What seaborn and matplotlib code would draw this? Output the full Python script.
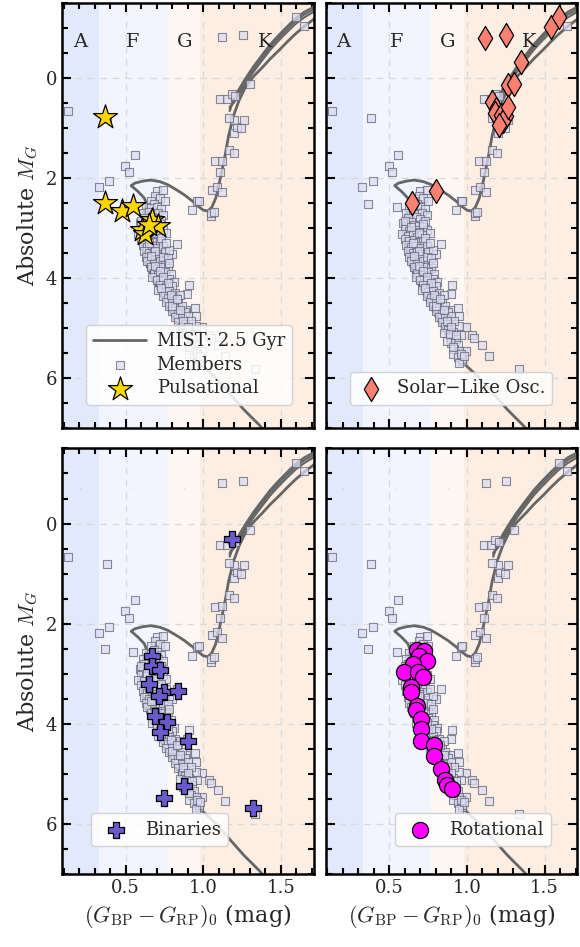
import matplotlib
matplotlib.use("Agg")
import seaborn as sns
from matplotlib import pyplot as plt
from matplotlib.ticker import MultipleLocator

# MIST 2.5 Gyr isochrone (MS -> hook -> SGB -> RGB)
iso_x = [1.45, 1.36, 1.26, 1.16, 1.08, 0.99, 0.91, 0.82, 0.735, 0.67, 0.63, 0.605, 0.595, 0.60, 0.615,
         0.635, 0.62, 0.58, 0.535, 0.56, 0.61, 0.66, 0.72, 0.77, 0.83, 0.88, 0.93, 0.97, 1.00, 1.03,
         1.055, 1.08, 1.11, 1.14, 1.163, 1.195, 1.23, 1.27, 1.32, 1.38, 1.43, 1.49, 1.54, 1.59, 1.65,
         1.71, 1.76]
iso_y = [7.25, 6.93, 6.62, 6.27, 5.99, 5.73, 5.33, 4.86, 4.39, 3.99, 3.70, 3.35, 3.03, 2.85, 2.70,
         2.52, 2.40, 2.27, 2.15, 2.10, 2.06, 2.04, 2.07, 2.13, 2.24, 2.34, 2.46, 2.57, 2.64, 2.66,
         2.58, 2.40, 2.00, 1.55, 1.15, 0.75, 0.45, 0.19, -0.02, -0.21, -0.38, -0.56, -0.72, -0.87, -1.03,
         -1.17, -1.30]
# helium burning / AGB tracks leaving the clump
agb_x = [1.17, 1.195, 1.23, 1.271, 1.32, 1.378, 1.43, 1.486, 1.54, 1.594, 1.65, 1.71, 1.76]
agb_y1 = [0.62, 0.46, 0.27, 0.06, -0.17, -0.41, -0.62, -0.81, -0.98, -1.14, -1.27, -1.37, -1.45]
agb_y2 = [0.58, 0.50, 0.33, 0.12, -0.11, -0.35, -0.56, -0.75, -0.92, -1.08, -1.21, -1.32, -1.40]
agb_y3 = [0.66, 0.42, 0.22, 0.01, -0.22, -0.46, -0.67, -0.86, -1.03, -1.19, -1.32, -1.42, -1.50]

# cluster members
mem_x = [0.13, 0.38, 0.559, 0.497, 0.518, 0.394, 0.325, 0.365, 0.548, 0.96, 0.93, 1.05, 1.05,
         1.055, 1.087, 1.12, 1.077, 1.12, 1.11, 1.163, 1.195, 1.2, 1.214, 1.245, 1.264, 1.2, 1.163,
         1.108, 1.155, 1.184, 1.206, 1.303, 1.12, 1.255, 1.594, 1.648, 1.066, 0.97,
         0.832, 0.80, 0.907, 0.896, 0.946, 0.95, 0.89, 0.993, 1.036, 1.047, 1.096, 1.14, 1.333,
         0.95, 0.96, 0.993, 0.97,
         0.70, 0.74, 0.69, 0.72, 0.66, 0.75, 0.68,
         0.63, 0.66, 0.70, 0.73, 0.61, 0.65, 0.68, 0.71, 0.74, 0.62, 0.67, 0.70, 0.73,
         0.59, 0.61, 0.64, 0.66, 0.69, 0.72, 0.60, 0.63, 0.67, 0.70, 0.74, 0.58, 0.62, 0.65, 0.68,
         0.71, 0.76,
         0.60, 0.63, 0.66, 0.69, 0.72, 0.61, 0.64, 0.67, 0.70, 0.74, 0.62, 0.65, 0.68, 0.71, 0.75,
         0.78, 0.63, 0.67, 0.70,
         0.64, 0.68, 0.72, 0.75, 0.66, 0.70, 0.73, 0.77, 0.68, 0.71, 0.75, 0.79, 0.67,
         0.70, 0.74, 0.78, 0.81, 0.72, 0.76, 0.80, 0.71, 0.75, 0.78, 0.82, 0.74, 0.77, 0.81, 0.85,
         0.76, 0.80, 0.84,
         0.78, 0.82, 0.86, 0.80, 0.84, 0.88, 0.82, 0.86, 0.90, 0.84, 0.88, 0.92, 0.86,
         0.88, 0.91, 0.85, 0.89, 0.93, 0.90, 0.94, 0.87, 0.92, 0.95, 0.91, 0.94, 0.97, 0.95,
         0.60, 0.64, 0.69, 0.73, 0.65, 0.69, 0.66, 0.74, 0.69, 0.72, 0.74, 0.77, 0.73, 0.79,
         0.80, 0.83, 0.85, 0.87, 0.90, 0.89, 0.93, 0.91, 0.96, 0.98, 0.72, 0.76, 0.77, 0.78]
mem_y = [0.67, 0.80, 1.53, 1.75, 1.88, 2.06, 2.18, 2.51, 2.57, 2.46, 2.64, 2.76, 2.70,
         2.23, 2.17, 2.28, 1.66, 1.65, 1.88, 1.43, 1.49, 1.09, 0.97, 1.00, 0.83, 0.83, 0.79,
         0.43, 0.43, 0.32, 0.37, 0.13, -0.81, -0.85, -1.21, -1.04, 2.67, 2.45,
         3.31, 3.51, 4.13, 4.31, 4.59, 4.76, 4.63, 4.98, 5.13, 5.19, 5.33, 5.55, 5.81,
         4.96, 5.13, 5.46, 5.66,
         2.26, 2.24, 2.35, 2.40, 2.45, 2.45, 2.52,
         2.58, 2.60, 2.57, 2.62, 2.70, 2.68, 2.72, 2.70, 2.74, 2.80, 2.78, 2.82, 2.85,
         2.90, 2.95, 2.88, 2.93, 2.95, 2.98, 3.02, 3.05, 3.04, 3.07, 3.03, 3.12, 3.15, 3.12, 3.18,
         3.14, 3.10,
         3.22, 3.26, 3.24, 3.28, 3.25, 3.34, 3.38, 3.35, 3.40, 3.36, 3.46, 3.50, 3.47, 3.52, 3.48,
         3.44, 3.58, 3.60, 3.56,
         3.66, 3.70, 3.65, 3.72, 3.78, 3.82, 3.78, 3.80, 3.90, 3.94, 3.88, 3.92, 3.98,
         4.04, 4.06, 4.02, 4.08, 4.14, 4.18, 4.15, 4.24, 4.28, 4.25, 4.30, 4.36, 4.40, 4.38, 4.34,
         4.48, 4.46, 4.50,
         4.56, 4.60, 4.56, 4.66, 4.70, 4.68, 4.78, 4.80, 4.76, 4.88, 4.92, 4.86, 4.98,
         5.04, 5.08, 5.10, 5.18, 5.22, 5.30, 5.34, 5.26, 5.42, 5.46, 5.52, 5.58, 5.62, 5.70,
         2.85, 2.98, 3.10, 3.20, 3.30, 3.45, 3.55, 3.58, 3.75, 3.86, 3.98, 4.10, 4.20, 4.33,
         4.55, 4.42, 4.63, 4.86, 4.98, 5.12, 5.14, 5.38, 5.52, 5.56, 2.92, 3.30, 3.60, 3.70]

# variability classes
puls_x = [0.367, 0.367, 0.475, 0.544, 0.669, 0.711, 0.604, 0.625, 0.65]
puls_y = [0.78, 2.49, 2.65, 2.56, 2.83, 2.96, 3.03, 3.12, 2.93]
solar_x = [1.118, 1.251, 1.542, 1.595, 1.348, 1.266, 1.305, 1.165, 1.187, 1.18, 1.219, 1.251,
           1.23, 1.21, 1.262, 0.649, 0.804]
solar_y = [-0.79, -0.86, -1.01, -1.21, -0.31, 0.15, 0.13, 0.49, 0.63, 0.69, 0.73, 0.76,
           0.86, 0.93, 0.59, 2.49, 2.25]
bin_x = [1.185, 0.669, 0.669, 0.722, 0.647, 0.744, 0.712, 0.84, 0.69, 0.765, 0.722, 0.899,
         0.873, 0.744, 1.322]
bin_y = [0.31, 2.64, 2.84, 2.93, 3.21, 3.37, 3.44, 3.34, 3.84, 3.97, 4.17, 4.34,
         5.24, 5.49, 5.68]
rot_x = [0.677, 0.724, 0.692, 0.742, 0.65, 0.595, 0.682, 0.72, 0.638, 0.638, 0.677, 0.67,
         0.703, 0.703, 0.707, 0.789, 0.789, 0.832, 0.857, 0.874, 0.901]
rot_y = [2.52, 2.54, 2.64, 2.75, 2.81, 2.97, 2.97, 3.07, 3.26, 3.37, 3.64, 3.73,
         3.91, 4.11, 4.35, 4.42, 4.64, 4.91, 5.13, 5.22, 5.31]

# spectral type regions
sp_names = ["A", "F", "G", "K"]
sp_lo = [0.0, 0.328, 0.772, 0.98]
sp_hi = [0.328, 0.772, 0.98, 2.0]
sp_colors = ["#e2e9fb", "#f3f5fe", "#fef8f4", "#fdeee3"]
sp_label_x = [0.206, 0.548, 0.877, 1.40]
sp_label_y = -0.72

sns.set_theme(style="ticks")
plt.rcParams["font.family"] = ["DejaVu Serif"]
plt.rcParams["mathtext.fontset"] = "cm"

fig, axes = plt.subplots(2, 2, figsize=(5.8, 9.47), dpi=100, sharex=True, sharey=True)
fig.subplots_adjust(left=0.107, right=0.995, top=0.997, bottom=0.077, wspace=0.048, hspace=0.047)

panels = [
    (axes[0, 0], puls_x, puls_y, "*", "#ffd700", 330, "Pulsational", (0.06, 0.035), 2.9),
    (axes[0, 1], solar_x, solar_y, "d", "#fa8072", 150, "Solar\u2212Like Osc.", (0.06, 0.035), 1.6),
    (axes[1, 0], bin_x, bin_y, "P", "#6a5acd", 130, "Binaries", (0.08, 0.045), 2.0),
    (axes[1, 1], rot_x, rot_y, "o", "#ff00ff", 135, "Rotational", (0.24, 0.045), 2.0),
]

for i, (ax, vx, vy, mk, col, size, lab, anchor, hlen) in enumerate(panels):
    first = i == 0
    for lo, hi, c in zip(sp_lo, sp_hi, sp_colors):
        ax.axvspan(lo, hi, color=c, lw=0, zorder=0)
    ax.grid(True, ls=(0, (5, 4)), color="0.86", lw=1)
    ax.set_axisbelow(True)

    sns.lineplot(x=iso_x, y=iso_y, sort=False, estimator=None, color="#666666", lw=2,
                 ax=ax, label="MIST: 2.5 Gyr" if first else None, zorder=2)
    for ay in [agb_y1, agb_y2, agb_y3]:
        sns.lineplot(x=agb_x, y=ay, sort=False, estimator=None, color="#666666", lw=1.6,
                     ax=ax, zorder=2)
    sns.scatterplot(x=mem_x, y=mem_y, marker="s", s=34, color="#dcdcf2", edgecolor="#666677",
                    linewidth=0.8, alpha=0.75, ax=ax, zorder=3,
                    label="Members" if first else None)
    sns.scatterplot(x=vx, y=vy, marker=mk, s=size, color=col, edgecolor="black",
                    linewidth=0.9, ax=ax, zorder=5, label=lab)

    if i < 2:
        for name, lx in zip(sp_names, sp_label_x):
            ax.text(lx, sp_label_y, name, ha="center", va="center", fontsize=14, zorder=4)
    else:
        for lx in sp_label_x:
            ax.text(lx, sp_label_y, ".", ha="center", va="center", fontsize=3, color="0.3", zorder=4)

    ax.legend(loc="lower left", bbox_to_anchor=anchor, fontsize=13, frameon=True, fancybox=True,
              framealpha=0.85, edgecolor="0.8", handlelength=hlen, labelspacing=0.3,
              borderpad=0.4, handletextpad=0.6)

    ax.set_xlim(0.09, 1.71)
    ax.set_ylim(7.0, -1.5)
    ax.xaxis.set_major_locator(MultipleLocator(0.5))
    ax.xaxis.set_minor_locator(MultipleLocator(0.1))
    ax.yaxis.set_major_locator(MultipleLocator(2))
    ax.yaxis.set_minor_locator(MultipleLocator(0.5))
    ax.tick_params(which="both", direction="in", top=True, right=True, width=1.5,
                   labelsize=13, color="black")
    ax.tick_params(which="major", length=6.5)
    ax.tick_params(which="minor", length=4)
    for sp in ax.spines.values():
        sp.set_linewidth(1.8)
        sp.set_color("black")
    ax.set_xlabel("")
    ax.set_ylabel("")

for ax in axes[:, 0]:
    ax.set_ylabel("Absolute $M_G$", fontsize=16, labelpad=4)
for ax in axes[1, :]:
    ax.set_xlabel(r"$(G_{\rm BP}-G_{\rm RP})_0$ (mag)", fontsize=16)

fig.savefig("out.png", dpi=100)
